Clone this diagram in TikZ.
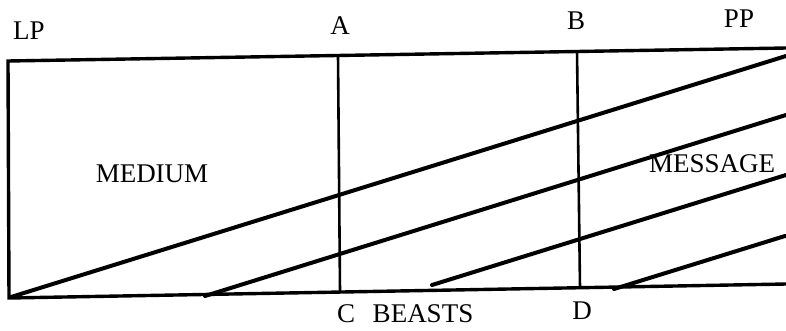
\documentclass[tikz,border=0pt]{standalone}
\usepackage{fontspec}
\setmainfont{Liberation Serif}
\begin{document}
\begin{tikzpicture}[x=1pt,y=-1pt,
  frame/.style={line width=3.4pt},
  divider/.style={line width=2.6pt},
  slant/.style={line width=4pt,line cap=round},
  lbl/.style={font=\fontsize{27}{29}\selectfont,inner sep=0pt}]
\useasboundingbox (0,0) rectangle (786,330);
% frame corners
\coordinate (tl) at (8,61);
\coordinate (tr) at (786,48);
\coordinate (bl) at (9,298);
\coordinate (br) at (786,284);
\coordinate (at) at (338,55);
\coordinate (ab) at (340,292);
\coordinate (bt) at (577,51);
\coordinate (bb) at (580,288);
% slant ends
\coordinate (s1a) at (11,297);
\coordinate (s1b) at (786,56);
\coordinate (s2a) at (205,296);
\coordinate (s2b) at (786,115);
\coordinate (s3a) at (432,285);
\coordinate (s3b) at (786,175);
\coordinate (s4a) at (614,289);
\coordinate (s4b) at (785,236);
\draw[frame] (tr) -- (tl) -- (bl) -- (br);
\draw[divider] (at) -- (ab);
\draw[divider] (bt) -- (bb);
\draw[slant] (s1a) -- (s1b);
\draw[slant] (s2a) -- (s2b);
\draw[slant] (s3a) -- (s3b);
\draw[slant] (s4a) -- (s4b);
% labels
\node[lbl] (lp) at (29,31) {LP};
\node[lbl] (a) at (340,26) {A};
\node[lbl] (b) at (576,21) {B};
\node[lbl] (pp) at (739,19) {PP};
\node[lbl] (medium) at (152,174) {MEDIUM};
\node[lbl] (message) at (712,164) {MESSAGE};
\node[lbl] (c) at (346,314) {C};
\node[lbl] (beasts) at (423,314) {BEASTS};
\node[lbl] (d) at (582,311) {D};
\end{tikzpicture}
\end{document}
